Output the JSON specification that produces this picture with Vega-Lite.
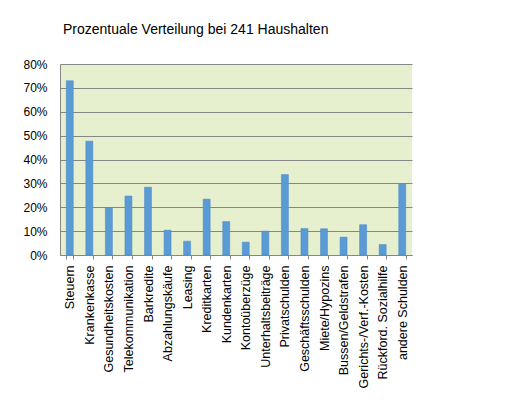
{
  "$schema": "https://vega.github.io/schema/vega-lite/v6.json",
  "width": 352,
  "height": 191,
  "autosize": {"type": "none"},
  "padding": {"left": 60, "top": 64, "right": 119, "bottom": 155},
  "background": "white",
  "title": {
    "text": "Prozentuale Verteilung bei 241 Haushalten",
    "anchor": "start",
    "frame": "group",
    "offset": 21,
    "dx": 3,
    "font": "Liberation Sans",
    "fontSize": 14,
    "fontWeight": "normal",
    "color": "#000000"
  },
  "data": {
    "values": [
      {"k": "Steuern", "v": 0.73},
      {"k": "Krankenkasse", "v": 0.477},
      {"k": "Gesundheitskosten", "v": 0.198},
      {"k": "Telekommunikation", "v": 0.247},
      {"k": "Barkredite", "v": 0.284},
      {"k": "Abzahlungskäufe", "v": 0.104},
      {"k": "Leasing", "v": 0.058},
      {"k": "Kreditkarten", "v": 0.234},
      {"k": "Kundenkarten", "v": 0.14},
      {"k": "Kontoüberzüge", "v": 0.054},
      {"k": "Unterhaltsbeiträge", "v": 0.1},
      {"k": "Privatschulden", "v": 0.337},
      {"k": "Geschäftsschulden", "v": 0.111},
      {"k": "Miete/Hypozins", "v": 0.11},
      {"k": "Bussen/Geldstrafen", "v": 0.075},
      {"k": "Gerichts-/Verf.-Kosten", "v": 0.127},
      {"k": "Rückford. Sozialhilfe", "v": 0.044},
      {"k": "andere Schulden", "v": 0.297},
      {"k": " ", "v": null}
    ]
  },
  "mark": {"type": "bar", "color": "#5b9bd5", "stroke": "#4a8ac4", "strokeWidth": 0.5},
  "encoding": {
    "x": {
      "field": "k",
      "type": "nominal",
      "sort": null,
      "title": null,
      "scale": {"paddingInner": 0.64, "paddingOuter": 0.32},
      "axis": {
        "labelAngle": -90,
        "labelAlign": "right",
        "labelBaseline": "middle",
        "labelFont": "Liberation Sans",
        "labelFontSize": 12.5,
        "labelColor": "#000000",
        "labelPadding": 6,
        "labelOverlap": false,
        "tickBand": "extent",
        "tickColor": "#868686",
        "tickSize": 4,
        "domainColor": "#868686",
        "grid": false
      }
    },
    "y": {
      "field": "v",
      "type": "quantitative",
      "title": null,
      "scale": {"domain": [0, 0.8], "nice": false},
      "axis": {
        "format": ".0%",
        "values": [0, 0.1, 0.2, 0.3, 0.4, 0.5, 0.6, 0.7, 0.8],
        "labelFont": "Liberation Sans",
        "labelFontSize": 12,
        "labelColor": "#000000",
        "labelPadding": 13,
        "ticks": false,
        "domainColor": "#868686",
        "gridColor": "#868686",
        "gridWidth": 1
      }
    }
  },
  "config": {
    "view": {"fill": "#e6f0cf", "stroke": null}
  }
}
